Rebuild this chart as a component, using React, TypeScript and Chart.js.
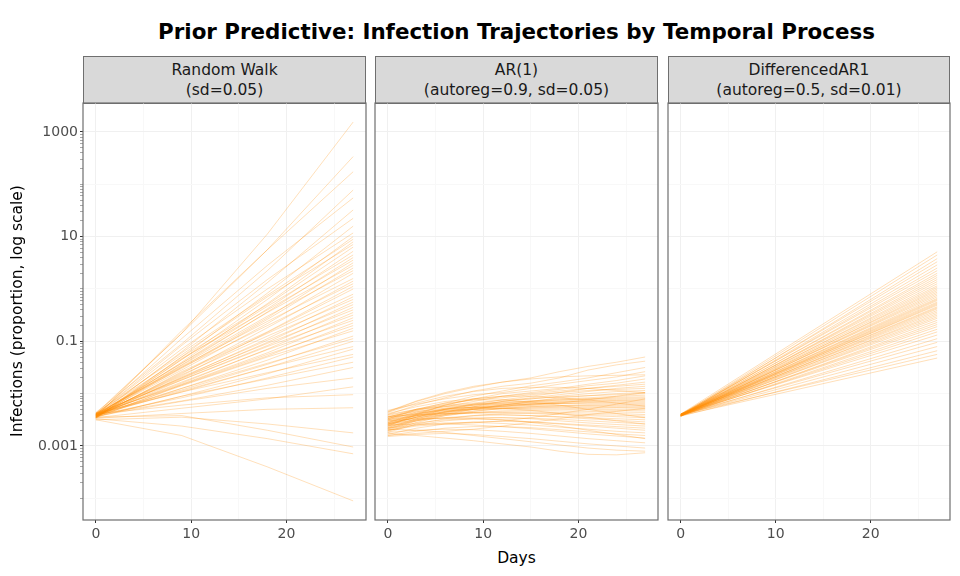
import React, { useEffect, useRef } from "react";
import { Chart, registerables } from "chart.js";

Chart.register(...registerables);

const FONT = '"DejaVu Sans", Verdana, sans-serif';

const chartTitle = "Prior Predictive: Infection Trajectories by Temporal Process";
const xAxisTitle = "Days";
const yAxisTitle = "Infections (proportion, log scale)";
const panelTitles = ["Random Walk", "AR(1)", "DifferencedAR1"];
const panelSubtitles = ["(sd=0.05)", "(autoreg=0.9, sd=0.05)", "(autoreg=0.5, sd=0.01)"];

// ---- data (log10 of infection proportion) ----
const randomWalkDays = [0, 9, 18, 27];
const randomWalkLog10 = [
  [-2.40, -0.85, 1.05, 3.19],
  [-2.38, -0.85, 0.75, 2.53],
  [-2.45, -0.80, 0.75, 2.24],
  [-2.36, -1.05, 0.35, 1.89],
  [-2.42, -0.95, 0.45, 1.74],
  [-2.44, -1.20, 0.12, 1.51],
  [-2.40, -1.08, 0.18, 1.35],
  [-2.47, -1.30, -0.08, 1.20],
  [-2.39, -1.15, 0.00, 1.07],
  [-2.43, -1.35, -0.20, 1.00],
  [-2.41, -1.22, -0.12, 0.95],
  [-2.45, -1.40, -0.28, 0.90],
  [-2.37, -1.26, -0.15, 0.85],
  [-2.44, -1.30, -0.30, 0.80],
  [-2.40, -1.42, -0.38, 0.72],
  [-2.46, -1.35, -0.33, 0.65],
  [-2.42, -1.45, -0.44, 0.60],
  [-2.38, -1.33, -0.40, 0.55],
  [-2.44, -1.50, -0.55, 0.50],
  [-2.41, -1.42, -0.45, 0.45],
  [-2.39, -1.52, -0.58, 0.40],
  [-2.45, -1.46, -0.52, 0.35],
  [-2.42, -1.55, -0.66, 0.30],
  [-2.40, -1.48, -0.62, 0.20],
  [-2.43, -1.62, -0.74, 0.15],
  [-2.38, -1.50, -0.70, 0.10],
  [-2.46, -1.58, -0.82, 0.05],
  [-2.41, -1.66, -0.83, 0.00],
  [-2.44, -1.60, -0.85, -0.10],
  [-2.39, -1.70, -0.95, -0.15],
  [-2.42, -1.64, -0.90, -0.20],
  [-2.40, -1.72, -1.02, -0.25],
  [-2.45, -1.68, -0.98, -0.30],
  [-2.37, -1.74, -1.08, -0.35],
  [-2.43, -1.70, -1.04, -0.40],
  [-2.41, -1.80, -1.15, -0.45],
  [-2.44, -1.74, -1.10, -0.50],
  [-2.40, -1.82, -1.22, -0.55],
  [-2.42, -1.78, -1.16, -0.60],
  [-2.38, -1.84, -1.28, -0.65],
  [-2.46, -1.83, -1.25, -0.70],
  [-2.41, -1.90, -1.36, -0.75],
  [-2.43, -1.85, -1.30, -0.80],
  [-2.39, -1.93, -1.44, -0.90],
  [-2.44, -1.90, -1.42, -0.95],
  [-2.40, -1.97, -1.50, -1.00],
  [-2.42, -1.95, -1.50, -1.10],
  [-2.45, -2.05, -1.62, -1.15],
  [-2.38, -1.97, -1.60, -1.25],
  [-2.41, -2.08, -1.70, -1.30],
  [-2.44, -2.05, -1.72, -1.40],
  [-2.40, -2.14, -1.84, -1.50],
  [-2.43, -2.15, -1.90, -1.70],
  [-2.46, -2.28, -2.10, -1.87],
  [-2.39, -2.22, -2.08, -2.02],
  [-2.47, -2.38, -2.30, -2.27],
  [-2.50, -2.45, -2.58, -2.75],
  [-2.45, -2.42, -2.70, -3.02],
  [-2.48, -2.62, -2.86, -3.15],
  [-2.50, -2.80, -3.40, -4.05],
];

const ar1Days = [0, 3, 6, 9, 12, 15, 18, 21, 24, 27];
const ar1Log10 = [
  [-2.35, -2.15, -2.00, -1.88, -1.78, -1.70, -1.58, -1.48, -1.40, -1.30],
  [-2.40, -2.22, -2.08, -1.95, -1.86, -1.80, -1.70, -1.55, -1.45, -1.38],
  [-2.45, -2.30, -2.18, -2.05, -1.95, -1.85, -1.78, -1.70, -1.60, -1.50],
  [-2.32, -2.20, -2.10, -2.02, -1.98, -1.90, -1.82, -1.75, -1.68, -1.58],
  [-2.55, -2.38, -2.22, -2.10, -2.00, -1.95, -1.90, -1.82, -1.75, -1.66],
  [-2.50, -2.35, -2.25, -2.15, -2.05, -1.98, -1.92, -1.85, -1.80, -1.72],
  [-2.60, -2.45, -2.30, -2.20, -2.12, -2.05, -1.98, -1.90, -1.84, -1.78],
  [-2.38, -2.25, -2.15, -2.10, -2.05, -2.00, -1.95, -1.90, -1.86, -1.82],
  [-2.65, -2.48, -2.35, -2.25, -2.15, -2.08, -2.02, -1.96, -1.90, -1.86],
  [-2.48, -2.32, -2.20, -2.12, -2.08, -2.02, -1.98, -1.94, -1.92, -1.90],
  [-2.58, -2.42, -2.30, -2.22, -2.15, -2.10, -2.05, -2.00, -1.96, -1.94],
  [-2.70, -2.52, -2.40, -2.30, -2.22, -2.15, -2.08, -2.04, -2.00, -1.98],
  [-2.42, -2.30, -2.22, -2.18, -2.12, -2.10, -2.06, -2.04, -2.02, -2.00],
  [-2.52, -2.40, -2.30, -2.22, -2.18, -2.14, -2.10, -2.08, -2.05, -2.03],
  [-2.62, -2.48, -2.36, -2.28, -2.22, -2.16, -2.12, -2.10, -2.07, -2.06],
  [-2.56, -2.40, -2.28, -2.20, -2.16, -2.14, -2.12, -2.10, -2.09, -2.08],
  [-2.45, -2.32, -2.24, -2.20, -2.18, -2.16, -2.14, -2.12, -2.11, -2.10],
  [-2.68, -2.50, -2.38, -2.30, -2.24, -2.20, -2.16, -2.14, -2.13, -2.12],
  [-2.50, -2.38, -2.30, -2.25, -2.20, -2.18, -2.16, -2.15, -2.14, -2.14],
  [-2.60, -2.45, -2.34, -2.28, -2.24, -2.20, -2.18, -2.17, -2.16, -2.16],
  [-2.55, -2.42, -2.32, -2.26, -2.22, -2.20, -2.19, -2.18, -2.18, -2.18],
  [-2.40, -2.30, -2.25, -2.22, -2.20, -2.20, -2.19, -2.20, -2.20, -2.20],
  [-2.72, -2.55, -2.42, -2.34, -2.28, -2.25, -2.23, -2.22, -2.22, -2.22],
  [-2.48, -2.36, -2.30, -2.26, -2.24, -2.23, -2.23, -2.23, -2.24, -2.24],
  [-2.58, -2.45, -2.36, -2.30, -2.27, -2.25, -2.25, -2.25, -2.26, -2.26],
  [-2.64, -2.50, -2.40, -2.33, -2.29, -2.27, -2.26, -2.27, -2.27, -2.28],
  [-2.53, -2.42, -2.35, -2.30, -2.28, -2.28, -2.28, -2.29, -2.30, -2.30],
  [-2.46, -2.38, -2.32, -2.30, -2.29, -2.30, -2.30, -2.31, -2.32, -2.33],
  [-2.66, -2.52, -2.42, -2.36, -2.33, -2.32, -2.33, -2.34, -2.35, -2.36],
  [-2.56, -2.46, -2.40, -2.36, -2.35, -2.35, -2.36, -2.37, -2.38, -2.40],
  [-2.74, -2.58, -2.48, -2.42, -2.38, -2.37, -2.38, -2.40, -2.41, -2.43],
  [-2.50, -2.42, -2.38, -2.36, -2.36, -2.38, -2.40, -2.42, -2.44, -2.46],
  [-2.62, -2.52, -2.46, -2.42, -2.41, -2.42, -2.44, -2.46, -2.48, -2.50],
  [-2.44, -2.40, -2.38, -2.38, -2.40, -2.42, -2.45, -2.48, -2.51, -2.54],
  [-2.70, -2.60, -2.52, -2.48, -2.46, -2.47, -2.49, -2.52, -2.55, -2.58],
  [-2.58, -2.50, -2.46, -2.45, -2.46, -2.48, -2.52, -2.56, -2.59, -2.62],
  [-2.78, -2.66, -2.58, -2.54, -2.53, -2.54, -2.57, -2.60, -2.63, -2.66],
  [-2.52, -2.48, -2.47, -2.48, -2.50, -2.54, -2.58, -2.62, -2.66, -2.70],
  [-2.66, -2.60, -2.56, -2.55, -2.57, -2.60, -2.64, -2.68, -2.72, -2.75],
  [-2.80, -2.72, -2.66, -2.63, -2.63, -2.65, -2.69, -2.73, -2.77, -2.80],
  [-2.60, -2.58, -2.58, -2.60, -2.63, -2.67, -2.72, -2.77, -2.81, -2.85],
  [-2.74, -2.70, -2.68, -2.69, -2.72, -2.76, -2.81, -2.86, -2.90, -2.94],
  [-2.82, -2.78, -2.76, -2.78, -2.82, -2.86, -2.91, -2.96, -3.00, -3.04],
  [-2.68, -2.70, -2.74, -2.80, -2.86, -2.92, -2.98, -3.04, -3.08, -3.10],
  [-2.76, -2.80, -2.85, -2.90, -2.96, -3.02, -3.10, -3.16, -3.17, -3.13],
  [-2.36, -2.18, -2.05, -1.96, -1.90, -1.88, -1.88, -1.90, -1.94, -1.98],
  [-2.62, -2.40, -2.22, -2.10, -2.05, -2.05, -2.08, -2.12, -2.18, -2.24],
  [-2.48, -2.30, -2.18, -2.12, -2.12, -2.16, -2.22, -2.30, -2.38, -2.46],
  [-2.70, -2.62, -2.58, -2.56, -2.52, -2.46, -2.38, -2.30, -2.20, -2.10],
  [-2.80, -2.76, -2.72, -2.68, -2.62, -2.55, -2.48, -2.40, -2.34, -2.28],
  [-2.34, -2.14, -1.98, -1.86, -1.78, -1.72, -1.68, -1.66, -1.65, -1.64],
  [-2.58, -2.44, -2.34, -2.28, -2.25, -2.22, -2.18, -2.12, -2.05, -1.98],
  [-2.44, -2.34, -2.28, -2.26, -2.28, -2.32, -2.38, -2.45, -2.52, -2.58],
  [-2.66, -2.56, -2.50, -2.48, -2.50, -2.55, -2.62, -2.70, -2.78, -2.86],
];

const diffAR1Days = [0, 27];
const diffAR1StartLog10 = [
  -2.39, -2.41, -2.43, -2.40, -2.42, -2.41, -2.39, -2.42, -2.40, -2.43,
  -2.41, -2.40, -2.42, -2.39, -2.41, -2.43, -2.40, -2.42, -2.41, -2.39,
  -2.42, -2.40, -2.41, -2.43, -2.40, -2.41, -2.42, -2.39, -2.41, -2.40,
  -2.43, -2.41, -2.40, -2.42, -2.39, -2.41, -2.42, -2.40, -2.43, -2.41,
  -2.40, -2.42, -2.41, -2.39, -2.42, -2.40, -2.41, -2.43, -2.40, -2.42,
];
const diffAR1EndLog10 = [
  0.71, 0.65, 0.58, 0.52, 0.46, 0.40, 0.35, 0.30, 0.26, 0.22,
  0.18, 0.14, 0.10, 0.06, 0.03, 0.00, -0.03, -0.06, -0.09, -0.12,
  -0.15, -0.18, -0.20, -0.22, -0.25, -0.27, -0.29, -0.31, -0.34, -0.36,
  -0.38, -0.41, -0.44, -0.47, -0.50, -0.53, -0.56, -0.60, -0.64, -0.68,
  -0.72, -0.77, -0.82, -0.88, -0.95, -1.02, -1.10, -1.18, -1.25, -1.32,
];

const xTickValues = [0, 10, 20];
const xMinorTickValues = [5, 15, 25];
const yTickValues = [0.001, 0.1, 10, 1000];
const yTickLabels = ["0.001", "0.1", "10", "1000"];
const yMinorValues = [0.0001, 0.01, 1, 100];

// ---- layout / style ----
const X_MIN = -1.35;
const X_MAX = 28.35;
const Y_MIN = Math.pow(10, -4.415);
const Y_MAX = Math.pow(10, 3.554);
const PANEL_TOP = 103;
const PANEL_BOTTOM = 520;
const PANELS = [
  { left: 83, width: 283 },
  { left: 375, width: 283 },
  { left: 668, width: 282 },
];
const Y_AXIS_W = 63;
const X_AXIS_H = 26;
const PAD_TOP = 3;
const PAD_RIGHT = 3;
const BORDER = "#6f6f6f";
const GRID_MAJOR = "#f0f0f0";
const GRID_MINOR = "#f8f8f8";

const sameLog = (a: number, b: number) => Math.abs(Math.log10(a) - Math.log10(b)) < 1e-6;
const inList = (v: number, list: number[]) => list.some((t) => sameLog(t, v));

const framePlugin = {
  id: "frame",
  afterDraw(chart: any) {
    const { ctx, chartArea: a } = chart;
    ctx.save();
    ctx.strokeStyle = BORDER;
    ctx.lineWidth = 1.2;
    ctx.strokeRect(a.left, a.top, a.right - a.left, a.bottom - a.top);
    ctx.restore();
  },
};

function buildYTicks() {
  const out: { value: number }[] = [];
  for (let n = -4; n <= 2; n++) {
    for (let k = 1; k <= 9; k++) out.push({ value: k * Math.pow(10, n) });
  }
  out.push({ value: 1000 });
  return out;
}

type PanelProps = {
  series: number[][];
  days: number[];
  left: number;
  width: number;
  showY: boolean;
  alpha: number;
};

function Panel({ series, days, left, width, showY, alpha }: PanelProps) {
  const ref = useRef<HTMLCanvasElement | null>(null);
  useEffect(() => {
    if (!ref.current) return;
    const color = `rgba(255,140,0,${alpha})`;
    const datasets = series.map((traj) => ({
      data: traj.map((v, i) => ({ x: days[i], y: Math.pow(10, v) })),
      borderColor: color,
      borderWidth: 1,
      pointRadius: 0,
      tension: 0,
      fill: false,
    }));
    const chart = new Chart(ref.current, {
      type: "line",
      data: { datasets },
      options: {
        animation: false,
        responsive: true,
        maintainAspectRatio: false,
        events: [],
        layout: { padding: { top: PAD_TOP, right: PAD_RIGHT, left: 0, bottom: 0 } },
        plugins: {
          legend: { display: false },
          tooltip: { enabled: false },
          title: { display: false },
        },
        scales: {
          x: {
            type: "linear",
            min: X_MIN,
            max: X_MAX,
            afterBuildTicks: (s: any) => {
              s.ticks = [...xTickValues, ...xMinorTickValues]
                .sort((a, b) => a - b)
                .map((value) => ({ value }));
            },
            afterFit: (s: any) => {
              s.height = X_AXIS_H;
              s.paddingLeft = 0;
              s.paddingRight = 0;
              s.paddingTop = 0;
              s.paddingBottom = 0;
            },
            border: { display: false },
            grid: {
              color: (c: any) =>
                c.tick && xTickValues.includes(c.tick.value) ? GRID_MAJOR : GRID_MINOR,
              lineWidth: 1,
              tickLength: 3,
              tickColor: (c: any) =>
                c.tick && xTickValues.includes(c.tick.value) ? "#333333" : "rgba(0,0,0,0)",
            },
            ticks: {
              autoSkip: false,
              maxRotation: 0,
              padding: 3,
              color: "#4d4d4d",
              font: { family: FONT, size: 14 },
              callback: (v: any) => (xTickValues.includes(Number(v)) ? String(v) : ""),
            },
          },
          y: {
            type: "logarithmic",
            min: Y_MIN,
            max: Y_MAX,
            afterBuildTicks: (s: any) => {
              s.ticks = buildYTicks();
            },
            afterFit: (s: any) => {
              s.width = Y_AXIS_W;
              s.paddingLeft = 0;
              s.paddingRight = 0;
              s.paddingTop = 0;
              s.paddingBottom = 0;
            },
            border: { display: false },
            grid: {
              color: (c: any) => {
                const v = c.tick ? c.tick.value : 0;
                if (inList(v, yTickValues)) return GRID_MAJOR;
                if (inList(v, yMinorValues)) return GRID_MINOR;
                return "rgba(0,0,0,0)";
              },
              lineWidth: 1,
              drawTicks: showY,
              tickLength: 3,
              tickColor: (c: any) => {
                if (!showY) return "rgba(0,0,0,0)";
                const v = c.tick ? c.tick.value : 0;
                return inList(v, yTickValues) ? "#333333" : "#a8a8a8";
              },
            },
            ticks: {
              display: showY,
              autoSkip: false,
              padding: 2,
              color: "#4d4d4d",
              font: { family: FONT, size: 14 },
              callback: (v: any) => {
                const i = yTickValues.findIndex((t) => sameLog(t, Number(v)));
                return i >= 0 ? yTickLabels[i] : "";
              },
            },
          },
        },
      } as any,
      plugins: [framePlugin],
    });
    return () => chart.destroy();
  }, [series, days, showY, alpha]);

  const canvasLeft = left - Y_AXIS_W;
  const canvasTop = PANEL_TOP - PAD_TOP;
  const canvasW = Y_AXIS_W + width + PAD_RIGHT;
  const canvasH = PANEL_BOTTOM - canvasTop + X_AXIS_H;
  return (
    <div
      style={{
        position: "absolute",
        left: canvasLeft,
        top: canvasTop,
        width: canvasW,
        height: canvasH,
      }}
    >
      <canvas ref={ref} />
    </div>
  );
}

const diffAR1Series = diffAR1StartLog10.map((s, i) => [s, diffAR1EndLog10[i]]);

export default function App() {
  const panelData = [
    { series: randomWalkLog10, days: randomWalkDays, alpha: 0.27 },
    { series: ar1Log10, days: ar1Days, alpha: 0.27 },
    { series: diffAR1Series, days: diffAR1Days, alpha: 0.28 },
  ];
  const plotLeft = PANELS[0].left;
  const plotRight = PANELS[2].left + PANELS[2].width;
  return (
    <div
      style={{
        position: "fixed",
        left: 0,
        top: 0,
        width: 960,
        height: 576,
        background: "#ffffff",
        fontFamily: FONT,
        overflow: "hidden",
      }}
    >
      <div
        style={{
          position: "absolute",
          left: plotLeft,
          width: plotRight - plotLeft,
          top: 19,
          height: 26,
          lineHeight: "26px",
          textAlign: "center",
          fontWeight: "bold",
          fontSize: 21.4,
          color: "#000",
          whiteSpace: "nowrap",
        }}
      >
        {chartTitle}
      </div>

      {PANELS.map((p, i) => (
        <div
          key={"strip" + i}
          style={{
            position: "absolute",
            left: p.left,
            top: 56,
            width: p.width,
            height: 48,
            boxSizing: "border-box",
            background: "#d9d9d9",
            border: `1.2px solid ${BORDER}`,
            display: "flex",
            flexDirection: "column",
            justifyContent: "center",
            alignItems: "center",
            fontSize: 15.5,
            lineHeight: "20px",
            color: "#1a1a1a",
            whiteSpace: "nowrap",
          }}
        >
          <div>{panelTitles[i]}</div>
          <div>{panelSubtitles[i]}</div>
        </div>
      ))}

      {PANELS.map((p, i) => (
        <Panel
          key={"panel" + i}
          series={panelData[i].series}
          days={panelData[i].days}
          left={p.left}
          width={p.width}
          showY={i === 0}
          alpha={panelData[i].alpha}
        />
      ))}

      <div
        style={{
          position: "absolute",
          left: plotLeft,
          width: plotRight - plotLeft,
          top: 548,
          height: 20,
          lineHeight: "20px",
          textAlign: "center",
          fontSize: 15.5,
          color: "#000",
        }}
      >
        {xAxisTitle}
      </div>

      <div
        style={{
          position: "absolute",
          left: 17 - 200,
          top: 311 - 10,
          width: 400,
          height: 20,
          lineHeight: "20px",
          textAlign: "center",
          fontSize: 15.5,
          color: "#000",
          transform: "rotate(-90deg)",
          whiteSpace: "nowrap",
        }}
      >
        {yAxisTitle}
      </div>
    </div>
  );
}
